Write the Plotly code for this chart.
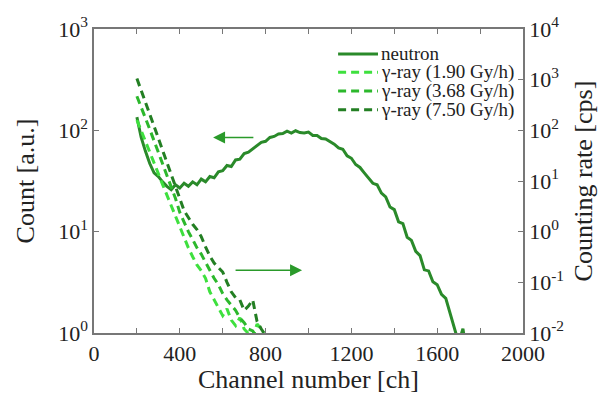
import plotly.graph_objects as go

# ---------------- data ----------------
neutron_ch = list(range(200, 1820, 20))
neutron_count = [135, 85, 62, 47, 38, 35, 31, 28, 26, 29,
                 27, 30, 28, 31, 29, 33, 31, 35, 34, 39,
                 40, 45, 44, 51, 52, 59, 61, 66, 71, 76,
                 78, 85, 87, 92, 93, 98, 94, 99, 95, 94,
                 96, 89, 89, 83, 82, 77, 73, 67, 65, 56,
                 53, 46, 43, 38, 34, 30, 29, 24, 22, 17.5,
                 16.5, 12.5, 12, 8.8, 8.2, 6.4, 5.8, 4.2, 4.1, 3.2,
                 3.0, 2.4, 2.2, 1.6, 1.15, 0.8, 1.1, 0.6, 0.9, 0.5,
                 0.9]

gamma_ch = list(range(200, 820, 20))
gamma_190 = [160, 100, 60, 38, 24, 14, 8.5, 5.2, 3.4, 2.0,
             1.2, 0.75, 0.48, 0.32, 0.22, 0.17, 0.12, 0.065, 0.045, 0.032,
             0.022, 0.03, 0.018, 0.014, 0.02, 0.012, 0.01, 0.008, 0.015, 0.012,
             0.008]
gamma_368 = [470, 290, 175, 105, 62, 37, 22, 13, 7.8, 4.5,
             2.4, 1.5, 1.0, 0.7, 0.48, 0.36, 0.25, 0.17, 0.12, 0.09,
             0.06, 0.045, 0.035, 0.028, 0.02, 0.016, 0.012, 0.011, 0.008, 0.007,
             0.006]
gamma_750 = [1050, 620, 350, 210, 118, 70, 40, 23, 13.5, 7.8,
             4.5, 2.6, 1.9, 1.4, 1.1, 0.8, 0.5, 0.33, 0.24, 0.2,
             0.16, 0.1, 0.065, 0.05, 0.045, 0.028, 0.034, 0.045, 0.017, 0.012,
             0.009]

series_names = ["neutron", "γ-ray (1.90 Gy/h)", "γ-ray (3.68 Gy/h)", "γ-ray (7.50 Gy/h)"]

x_tickvals = [0, 200, 400, 600, 800, 1000, 1200, 1400, 1600, 1800, 2000]
x_ticktext = ["0", "", "400", "", "800", "", "1200", "", "1600", "", "2000"]
yl_tickvals = [1, 10, 100, 1000]
yl_ticktext = ["10<sup>0</sup>", "10<sup>1</sup>", "10<sup>2</sup>", "10<sup>3</sup>"]
yr_tickvals = [0.01, 0.1, 1, 10, 100, 1000, 10000]
yr_ticktext = ["10<sup>-2</sup>", "10<sup>-1</sup>", "10<sup>0</sup>", "10<sup>1</sup>",
               "10<sup>2</sup>", "10<sup>3</sup>", "10<sup>4</sup>"]

# ---------------- style ----------------
FONT = "Liberation Serif"
AX = "#777777"
TXT = "#222222"
COLORS = ["#2a8a2a", "#3ee03e", "#2cb82c", "#237f23"]
DASHES = ["solid", "8px,5px", "8px,5px", "8px,5px"]

fig = go.Figure()
fig.add_trace(go.Scatter(x=neutron_ch, y=neutron_count, mode="lines", name=series_names[0],
                         line=dict(color=COLORS[0], width=3), yaxis="y"))
for name, vals, col, dsh in zip(series_names[1:], [gamma_190, gamma_368, gamma_750],
                                COLORS[1:], DASHES[1:]):
    fig.add_trace(go.Scatter(x=gamma_ch, y=vals, mode="lines", name=name,
                             line=dict(color=col, width=3, dash=dsh), yaxis="y2"))

fig.update_layout(
    width=608, height=394,
    margin=dict(l=94, r=85, t=29, b=61),
    paper_bgcolor="white", plot_bgcolor="white",
    font=dict(family=FONT, size=22, color=TXT),
    showlegend=False,
    xaxis=dict(range=[0, 2000], tickvals=x_tickvals, ticktext=x_ticktext,
               ticks="inside", ticklen=5, tickwidth=1.2, tickcolor=AX,
               automargin=False,
               showline=True, linecolor=AX, linewidth=1.5, mirror="ticks",
               showgrid=False, zeroline=False,
               title=dict(text="Channel number [ch]", font=dict(size=26), standoff=20)),
    yaxis=dict(type="log", range=[0, 3], tickvals=yl_tickvals, ticktext=yl_ticktext,
               ticks="inside", ticklen=5, tickwidth=1.2, tickcolor=AX, automargin=False,
               showline=True, linecolor=AX, linewidth=1.5,
               showgrid=False, zeroline=False,
               title=dict(text="Count [a.u.]", font=dict(size=26), standoff=16)),
    yaxis2=dict(type="log", range=[-2, 4], tickvals=yr_tickvals, ticktext=yr_ticktext,
                overlaying="y", side="right", automargin=False,
                ticks="inside", ticklen=5, tickwidth=1.2, tickcolor=AX,
                showline=True, linecolor=AX, linewidth=1.5,
                showgrid=False, zeroline=False,
                title=dict(text="Counting rate [cps]", font=dict(size=26), standoff=11)),
)

# legend drawn in the plot area (compact spacing like the original figure)
leg_x0, leg_x1, leg_tx = 0.569, 0.662, 0.664
leg_rows = [0.918, 0.858, 0.796, 0.734]
for name, col, dsh, yy in zip(series_names, COLORS, DASHES, leg_rows):
    fig.add_shape(type="line", xref="paper", yref="paper", x0=leg_x0, x1=leg_x1, y0=yy, y1=yy,
                  line=dict(color=col, width=3, dash=dsh))
    fig.add_annotation(xref="paper", yref="paper", x=leg_tx, y=yy, text=name, showarrow=False,
                       xanchor="left", yanchor="middle", font=dict(family=FONT, size=19, color=TXT))

# arrows indicating which axis each data set belongs to (left-axis coords, log10 for y)
fig.add_annotation(x=555, y=1.93, ax=750, ay=1.93, xref="x", yref="y", axref="x", ayref="y",
                   text="", showarrow=True, arrowhead=2, arrowsize=1.6, arrowwidth=1.5,
                   arrowcolor="#2a9a2a")
fig.add_annotation(x=970, y=0.62, ax=653, ay=0.62, xref="x", yref="y", axref="x", ayref="y",
                   text="", showarrow=True, arrowhead=2, arrowsize=1.6, arrowwidth=1.5,
                   arrowcolor="#2a9a2a")

fig.write_html("out.html")
